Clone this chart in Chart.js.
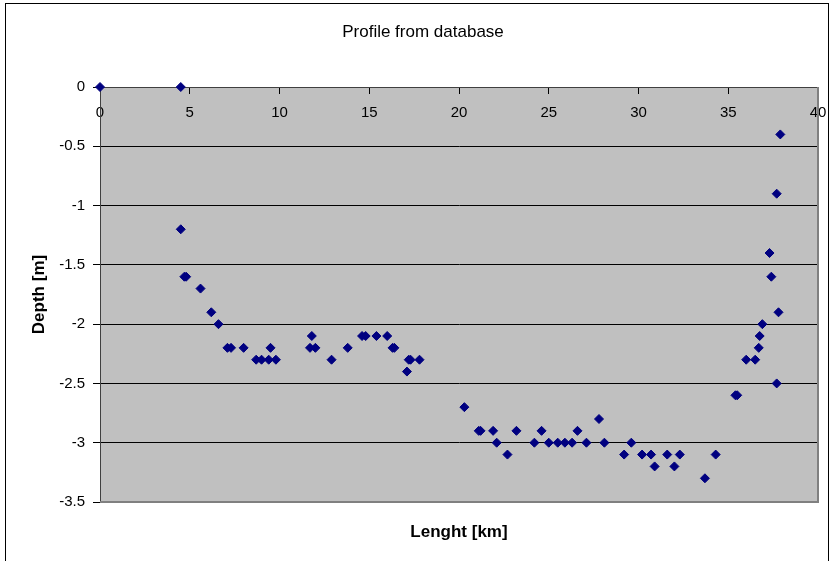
<!DOCTYPE html>
<html>
<head>
<meta charset="utf-8">
<script src="https://cdn.jsdelivr.net/npm/chart.js@4"></script>
<style>
  body { margin: 0; background: #fff; }
  #wrap { position: relative; width: 831px; height: 561px; }
  #frame { position: absolute; left: 5px; top: 3px; width: 822px; height: 600px; border: 1px solid #000; pointer-events: none; }
</style>
</head>
<body>
<div id="wrap">
  <canvas id="profile"></canvas>
  <div id="frame"></div>
</div>
<script>
// profile points
const lengthKm = [
  0, 4.5, 4.5, 4.7, 4.8, 5.6, 6.2, 6.6, 7.1, 7.3, 8.0, 8.7, 9.0, 9.4, 9.5, 9.8,
  11.7, 11.8, 12.0, 12.9, 13.8, 14.6, 14.8, 15.4, 16.0, 16.3, 16.4, 17.1, 17.2, 17.3, 17.8,
  20.3, 21.1, 21.2, 21.9, 22.1, 22.7, 23.2, 24.2, 24.6, 25.0, 25.5, 25.9, 26.3, 26.6, 27.1,
  27.8, 28.1, 29.2, 29.6, 30.2, 30.7, 30.9, 31.6, 32.0, 32.3, 33.7, 34.3,
  35.4, 35.5, 36.0, 36.5, 36.7, 36.75, 36.9, 37.3, 37.4, 37.7, 37.7, 37.8, 37.9
];
const depthM = [
  0, 0, -1.2, -1.6, -1.6, -1.7, -1.9, -2.0, -2.2, -2.2, -2.2, -2.3, -2.3, -2.3, -2.2, -2.3,
  -2.2, -2.1, -2.2, -2.3, -2.2, -2.1, -2.1, -2.1, -2.1, -2.2, -2.2, -2.4, -2.3, -2.3, -2.3,
  -2.7, -2.9, -2.9, -2.9, -3.0, -3.1, -2.9, -3.0, -2.9, -3.0, -3.0, -3.0, -3.0, -2.9, -3.0,
  -2.8, -3.0, -3.1, -3.0, -3.1, -3.1, -3.2, -3.1, -3.2, -3.1, -3.3, -3.1,
  -2.6, -2.6, -2.3, -2.3, -2.2, -2.1, -2.0, -1.4, -1.6, -2.5, -0.9, -1.9, -0.4
];
const xTicks = [0, 5, 10, 15, 20, 25, 30, 35, 40];
const yTicks = [0, -0.5, -1, -1.5, -2, -2.5, -3, -3.5];

Chart.defaults.font.family = "'Liberation Sans', Arial, sans-serif";
Chart.defaults.color = "#000";

// grey plot area + right edge like the spreadsheet chart
const plotBox = {
  id: "plotBox",
  beforeDraw(chart) {
    const { ctx, chartArea: a } = chart;
    ctx.save();
    ctx.fillStyle = "#c0c0c0";
    ctx.fillRect(a.left, a.top, a.right - a.left, a.bottom - a.top);
    ctx.restore();
  },
  afterDraw(chart) {
    const { ctx, chartArea: a } = chart;
    ctx.save();
    ctx.strokeStyle = "#808080";
    ctx.lineWidth = 2;
    ctx.beginPath();
    ctx.moveTo(a.right, a.top);
    ctx.lineTo(a.right, a.bottom);
    ctx.lineTo(a.left, a.bottom);
    ctx.stroke();
    ctx.restore();
  },
};

new Chart(document.getElementById("profile"), {
  type: "scatter",
  plugins: [plotBox],
  data: {
    datasets: [
      {
        label: "Profile",
        data: lengthKm.map((x, i) => ({ x: x, y: depthM[i] })),
        pointStyle: "rectRot",
        pointRadius: 4.5,
        borderWidth: 1,
        backgroundColor: "#000080",
        borderColor: "#000080",
        clip: false,
      },
    ],
  },
  options: {
    animation: false,
    responsive: true,
    maintainAspectRatio: false,
    layout: { padding: { left: 28, right: 13, top: 0, bottom: 10 } },
    plugins: {
      legend: { display: false },
      tooltip: { enabled: false },
      title: {
        display: true,
        text: "Profile from database",
        font: { size: 17, weight: "normal" },
        color: "#000",
        padding: { top: 22, bottom: 44.6 },
      },
    },
    scales: {
      x: {
        type: "linear",
        position: { y: 0 },
        min: 0,
        max: 40,
        afterBuildTicks: (scale) => {
          scale.ticks = xTicks.map((v) => ({ value: v }));
        },
        afterFit: (scale) => {
          // labels may hang past the plot edge, don't shrink the plot for them
          scale.paddingLeft = 0;
          scale.paddingRight = 0;
        },
        ticks: { font: { size: 15 }, color: "#000", padding: 11, maxRotation: 0, callback: (v) => String(v) },
        grid: { drawOnChartArea: false, drawTicks: true, tickLength: 6, color: "#000" },
        border: { display: true, color: "#404040", width: 1 },
      },
      x2: {
        axis: "x",
        type: "linear",
        position: "bottom",
        min: 0,
        max: 40,
        ticks: { display: false },
        grid: { display: false, drawTicks: false },
        border: { display: false },
        title: {
          display: true,
          text: "Lenght [km]",
          font: { size: 17, weight: "bold" },
          color: "#000",
          padding: { top: 19.8, bottom: 8.8 },
        },
      },
      y: {
        type: "linear",
        position: "left",
        min: -3.5,
        max: 0,
        afterBuildTicks: (scale) => {
          scale.ticks = yTicks.map((v) => ({ value: v }));
        },
        afterFit: (scale) => {
          scale.width = 72;
        },
        ticks: { font: { size: 15 }, color: "#000", padding: 8, callback: (v) => String(v) },
        grid: { color: "#000", lineWidth: 1, drawTicks: true, tickLength: 7 },
        border: { display: true, color: "#404040", width: 1 },
        title: {
          display: true,
          text: "Depth [m]",
          font: { size: 17, weight: "bold" },
          color: "#000",
          padding: { top: 1, bottom: 4 },
        },
      },
    },
  },
});
</script>
</body>
</html>
